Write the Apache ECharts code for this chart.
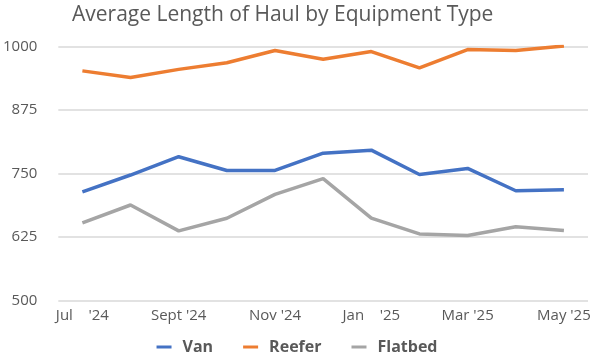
<!DOCTYPE html>
<html><head><meta charset="utf-8">
<script src="https://cdn.jsdelivr.net/npm/echarts@6/dist/echarts.min.js"></script>
<style>html,body{margin:0;padding:0;background:#fff}#c{width:594px;height:360px}</style>
</head><body><div id="c"></div>
<script>
const categories = ["Jul    '24","Aug '24","Sept '24","Oct '24","Nov '24","Dec '24","Jan    '25","Feb '25","Mar '25","Apr '25","May '25"];
const van = [714, 747, 783, 756, 756, 790, 796, 748, 760, 716, 718];
const reefer = [952, 939, 955, 968, 992, 975, 990, 958, 994, 992, 1001];
const flatbed = [653, 688, 637, 662, 709, 740, 662, 631, 628, 645, 638];
const yTicks = [500, 625, 750, 875, 1000];

const font = "'Open Sans', 'Liberation Sans', sans-serif";
const chart = echarts.init(document.getElementById('c'));
chart.setOption({
  animation: false,
  title: {text: 'Average Length of Haul by Equipment Type', left: 67, top: 0,
    textStyle: {fontFamily: font, fontSize: 21, fontWeight: 'normal', color: '#595959'}},
  grid: {left: 56, right: 6, top: 46.5, bottom: 59.5},
  legend: {bottom: 0, left: 'center', itemWidth: 15, itemHeight: 3, itemGap: 30,
    icon: 'rect',
    textStyle: {fontFamily: font, fontSize: 16, fontWeight: 'bold', color: '#595959', padding: [0, 0, 0, 6]},
    data: ['Van','Reefer','Flatbed']},
  xAxis: {type: 'category', data: categories, boundaryGap: true,
    axisLine: {show: false}, axisTick: {show: false},
    axisLabel: {interval: 1, color: '#595959', fontFamily: font, fontSize: 15, margin: 8}},
  yAxis: {type: 'value', min: yTicks[0], max: yTicks[yTicks.length-1], interval: 125,
    axisLabel: {color: '#595959', fontFamily: font, fontSize: 15, margin: 21, formatter: v => String(v)},
    splitLine: {lineStyle: {color: '#d9d9d9', width: 1.5}}},
  series: [
    {name: 'Van', type: 'line', data: van, showSymbol: false, lineStyle: {color: '#4472C4', width: 3.5}, itemStyle: {color: '#4472C4'}},
    {name: 'Reefer', type: 'line', data: reefer, showSymbol: false, lineStyle: {color: '#ED7D31', width: 3.5}, itemStyle: {color: '#ED7D31'}},
    {name: 'Flatbed', type: 'line', data: flatbed, showSymbol: false, lineStyle: {color: '#A5A5A5', width: 3.5}, itemStyle: {color: '#A5A5A5'}}
  ]
});
</script></body></html>
